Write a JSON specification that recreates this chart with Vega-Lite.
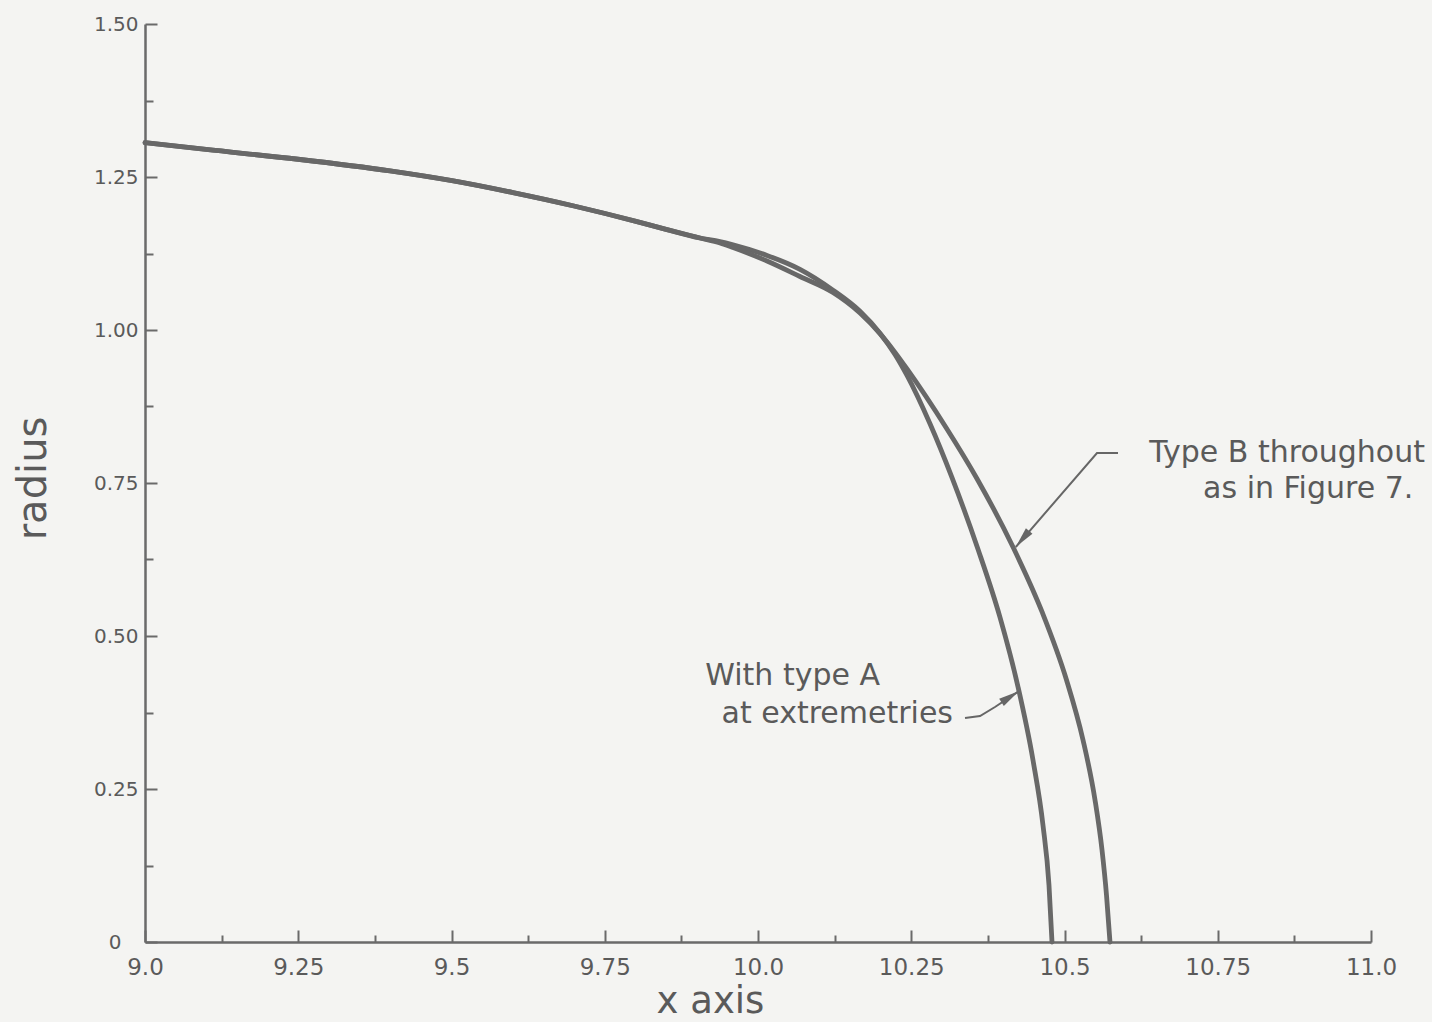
{
  "$schema": "https://vega.github.io/schema/vega-lite/v6.json",
  "width": 1226,
  "height": 918,
  "autosize": {"type": "none"},
  "padding": {"left": 145, "top": 24, "right": 61, "bottom": 80},
  "background": "#f4f4f2",
  "config": {"view": {"stroke": null}, "font": "DejaVu Sans"},
  "datasets": {
    "curves": [
      {"series": "A", "x": 9.0, "y": 1.306},
      {"series": "A", "x": 9.0995, "y": 1.295},
      {"series": "A", "x": 9.2496, "y": 1.279},
      {"series": "A", "x": 9.3997, "y": 1.26},
      {"series": "A", "x": 9.5008, "y": 1.244},
      {"series": "A", "x": 9.6003, "y": 1.2245},
      {"series": "A", "x": 9.6998, "y": 1.2026},
      {"series": "A", "x": 9.801, "y": 1.1775},
      {"series": "A", "x": 9.85, "y": 1.1644},
      {"series": "A", "x": 9.9054, "y": 1.1503},
      {"series": "A", "x": 9.938, "y": 1.1444},
      {"series": "A", "x": 9.9592, "y": 1.1391},
      {"series": "A", "x": 10.0147, "y": 1.1219},
      {"series": "A", "x": 10.0685, "y": 1.0992},
      {"series": "A", "x": 10.1223, "y": 1.0652},
      {"series": "A", "x": 10.1664, "y": 1.0307},
      {"series": "A", "x": 10.199, "y": 0.9948},
      {"series": "A", "x": 10.2235, "y": 0.96},
      {"series": "A", "x": 10.2431, "y": 0.9257},
      {"series": "A", "x": 10.2806, "y": 0.8467},
      {"series": "A", "x": 10.3165, "y": 0.7587},
      {"series": "A", "x": 10.3589, "y": 0.6418},
      {"series": "A", "x": 10.3948, "y": 0.5304},
      {"series": "A", "x": 10.4241, "y": 0.4172},
      {"series": "A", "x": 10.4486, "y": 0.2971},
      {"series": "A", "x": 10.4649, "y": 0.1908},
      {"series": "A", "x": 10.4747, "y": 0.0928},
      {"series": "A", "x": 10.4796, "y": 0.0},
      {"series": "B", "x": 9.0, "y": 1.306},
      {"series": "B", "x": 9.0995, "y": 1.295},
      {"series": "B", "x": 9.2496, "y": 1.279},
      {"series": "B", "x": 9.3997, "y": 1.26},
      {"series": "B", "x": 9.5008, "y": 1.244},
      {"series": "B", "x": 9.6003, "y": 1.2245},
      {"series": "B", "x": 9.6998, "y": 1.2026},
      {"series": "B", "x": 9.801, "y": 1.1775},
      {"series": "B", "x": 9.85, "y": 1.1644},
      {"series": "B", "x": 9.9054, "y": 1.1503},
      {"series": "B", "x": 9.938, "y": 1.1422},
      {"series": "B", "x": 9.9592, "y": 1.1348},
      {"series": "B", "x": 10.0147, "y": 1.1127},
      {"series": "B", "x": 10.0685, "y": 1.0874},
      {"series": "B", "x": 10.1223, "y": 1.0613},
      {"series": "B", "x": 10.1664, "y": 1.0278},
      {"series": "B", "x": 10.199, "y": 0.9941},
      {"series": "B", "x": 10.2235, "y": 0.9634},
      {"series": "B", "x": 10.2431, "y": 0.9363},
      {"series": "B", "x": 10.3067, "y": 0.8407},
      {"series": "B", "x": 10.3573, "y": 0.757},
      {"series": "B", "x": 10.416, "y": 0.6454},
      {"series": "B", "x": 10.4641, "y": 0.5376},
      {"series": "B", "x": 10.5033, "y": 0.4281},
      {"series": "B", "x": 10.5302, "y": 0.3301},
      {"series": "B", "x": 10.5498, "y": 0.232},
      {"series": "B", "x": 10.5612, "y": 0.1503},
      {"series": "B", "x": 10.5685, "y": 0.0768},
      {"series": "B", "x": 10.5742, "y": 0.0}
    ],
    "leaders": [
      {"leader": "B", "ord": 1, "x": 10.5873, "y": 0.799},
      {"leader": "B", "ord": 2, "x": 10.553, "y": 0.799},
      {"leader": "B", "ord": 3, "x": 10.4205, "y": 0.6454},
      {"leader": "A", "ord": 1, "x": 10.3377, "y": 0.366},
      {"leader": "A", "ord": 2, "x": 10.3622, "y": 0.3693},
      {"leader": "A", "ord": 3, "x": 10.3866, "y": 0.384},
      {"leader": "A", "ord": 4, "x": 10.4258, "y": 0.4101}
    ],
    "heads": [
      {"x": 10.4205, "y": 0.6454, "angle": 220},
      {"x": 10.4258, "y": 0.4101, "angle": 57}
    ],
    "notes": [
      {"label": "Type B throughout", "x": 11.088, "y": 0.784},
      {"label": "as in Figure 7.", "x": 11.069, "y": 0.7255},
      {"label": "With type A", "x": 10.199, "y": 0.42},
      {"label": "at extremetries", "x": 10.3181, "y": 0.3578}
    ]
  },
  "layer": [
    {
      "data": {"name": "curves"},
      "mark": {"type": "line", "interpolate": "monotone", "strokeWidth": 4.8, "color": "#686868", "strokeCap": "round", "strokeJoin": "round"},
      "encoding": {
        "x": {
          "field": "x", "type": "quantitative",
          "scale": {"domain": [9, 11], "nice": false, "zero": false},
          "axis": {
            "title": "x axis",
            "titleFont": "DejaVu Sans", "titleFontSize": 37, "titleFontWeight": "normal", "titleColor": "#5a5a5a",
            "titleX": 565, "titleY": 70, "titleBaseline": "alphabetic", "titleAlign": "center",
            "values": [9, 9.125, 9.25, 9.375, 9.5, 9.625, 9.75, 9.875, 10, 10.125, 10.25, 10.375, 10.5, 10.625, 10.75, 10.875, 11],
            "labelExpr": "datum.value % 0.25 !== 0 ? '' : (datum.value % 0.5 === 0 ? format(datum.value, '.1f') : format(datum.value, '.2f'))",
            "labelFont": "DejaVu Sans", "labelFontSize": 23, "labelColor": "#5a5a5a",
            "labelFlush": false, "labelOverlap": false, "labelPadding": 26,
            "tickSize": {"condition": {"test": "datum.value % 0.25 === 0", "value": -12}, "value": -7},
            "tickColor": "#6a6a6a", "tickWidth": 2,
            "domainColor": "#6a6a6a", "domainWidth": 2.5,
            "grid": false
          }
        },
        "y": {
          "field": "y", "type": "quantitative",
          "scale": {"domain": [0, 1.5], "nice": false, "zero": false},
          "axis": {
            "title": "radius",
            "titleFont": "DejaVu Sans", "titleFontSize": 40, "titleFontWeight": "normal", "titleColor": "#5a5a5a",
            "titleX": -100, "titleY": 454, "titleBaseline": "alphabetic", "titleAlign": "center", "titleAngle": -90,
            "values": [0, 0.125, 0.25, 0.375, 0.5, 0.625, 0.75, 0.875, 1, 1.125, 1.25, 1.375, 1.5],
            "labelExpr": "datum.value % 0.25 !== 0 ? '' : (datum.value === 0 ? '0' : format(datum.value, '.2f'))",
            "labelFont": "DejaVu Sans", "labelFontSize": 20, "labelColor": "#5a5a5a",
            "labelFlush": false, "labelOverlap": false,
            "labelPadding": {"condition": {"test": "datum.value === 0", "value": 36}, "value": 19},
            "tickSize": {"condition": {"test": "datum.value % 0.25 === 0", "value": -12}, "value": -8},
            "tickColor": "#6a6a6a", "tickWidth": 2,
            "domainColor": "#6a6a6a", "domainWidth": 2.5,
            "grid": false
          }
        },
        "detail": {"field": "series"}
      }
    },
    {
      "data": {"name": "leaders"},
      "mark": {"type": "line", "strokeWidth": 2, "color": "#666666"},
      "encoding": {
        "x": {"field": "x", "type": "quantitative", "scale": {"domain": [9, 11], "nice": false, "zero": false}},
        "y": {"field": "y", "type": "quantitative", "scale": {"domain": [0, 1.5], "nice": false, "zero": false}},
        "detail": {"field": "leader"},
        "order": {"field": "ord"}
      }
    },
    {
      "data": {"name": "heads"},
      "mark": {"type": "point", "shape": "M0,0L0.45,2.2L-0.45,2.2Z", "filled": true, "size": 360, "color": "#666666", "opacity": 1},
      "encoding": {
        "x": {"field": "x", "type": "quantitative", "scale": {"domain": [9, 11], "nice": false, "zero": false}},
        "y": {"field": "y", "type": "quantitative", "scale": {"domain": [0, 1.5], "nice": false, "zero": false}},
        "angle": {"field": "angle", "type": "quantitative", "scale": null}
      }
    },
    {
      "data": {"name": "notes"},
      "mark": {"type": "text", "align": "right", "baseline": "alphabetic", "font": "DejaVu Sans", "fontSize": 30, "color": "#5a5a5a"},
      "encoding": {
        "x": {"field": "x", "type": "quantitative", "scale": {"domain": [9, 11], "nice": false, "zero": false}},
        "y": {"field": "y", "type": "quantitative", "scale": {"domain": [0, 1.5], "nice": false, "zero": false}},
        "text": {"field": "label"}
      }
    }
  ]
}
